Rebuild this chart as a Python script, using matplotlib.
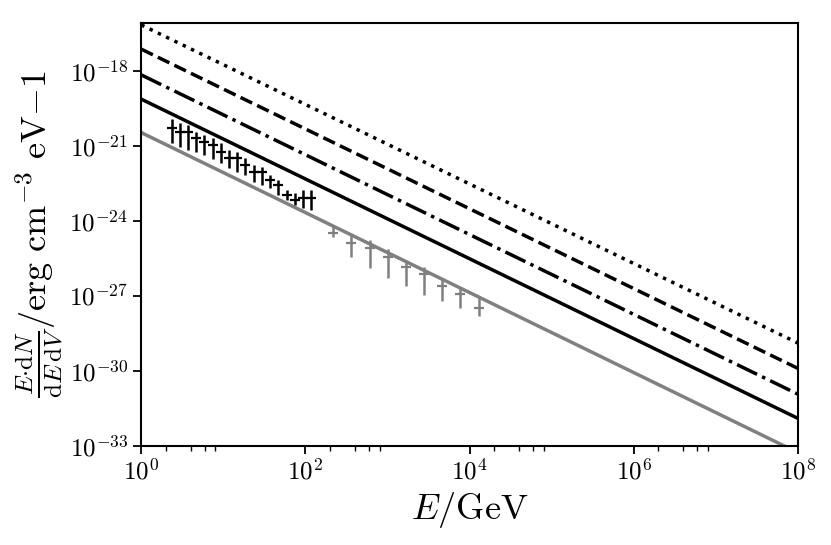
import numpy as np
import matplotlib
matplotlib.use("Agg")
import matplotlib.pyplot as plt
from matplotlib.ticker import FixedLocator

plt.rcParams['mathtext.fontset'] = 'cm'
plt.rcParams['font.family'] = 'serif'
plt.rcParams['font.serif'] = ['cmr10', 'DejaVu Serif']
plt.rcParams['axes.formatter.use_mathtext'] = True

# model lines: values at the two ends of the E range (straight in log-log)
line_E = [1.0, 1e8]
dotted_vals = [6.9e-17, 1.3e-29]
dashed_vals = [7.4e-18, 1.26e-30]
dashdot_vals = [6.9e-19, 1.17e-31]
solid_vals = [7.4e-20, 1.26e-32]
gray_vals = [3.4e-21, 5.4e-34]

# black data points (log10 values)
black_logE = [0.37, 0.47, 0.57, 0.67, 0.77, 0.87, 0.97, 1.07, 1.17,
              1.27, 1.37, 1.47, 1.57, 1.67, 1.77, 1.87, 1.97, 2.07]
black_logy = [-20.29, -20.43, -20.46, -20.67, -20.83, -20.96, -21.23, -21.50, -21.50,
              -21.76, -22.03, -22.03, -22.36, -22.56, -22.96, -23.16, -23.10, -23.10]
black_logtop = [-19.93, -20.09, -20.16, -20.43, -20.56, -20.70, -20.89, -21.16, -21.23,
                -21.50, -21.76, -21.83, -22.16, -22.36, -22.76, -22.90, -22.76, -22.76]
black_logbot = [-20.89, -21.03, -21.16, -21.23, -21.36, -21.52, -21.70, -21.90, -22.03,
                -22.16, -22.43, -22.56, -22.70, -22.96, -23.16, -23.36, -23.50, -23.56]

# gray data points
gray_logE = [2.34, 2.56, 2.79, 3.01, 3.23, 3.45, 3.67, 3.89, 4.11]
gray_logy = [-24.47, -24.90, -25.07, -25.43, -25.83, -26.14, -26.61, -26.94, -27.50]
gray_logtop = [-24.16, -24.57, -24.77, -25.14, -25.57, -25.86, -26.30, -26.66, -27.06]
gray_logbot = [-24.66, -25.43, -25.90, -26.27, -26.61, -26.97, -27.20, -27.48, -27.80]

# minor ticks only appear in the first decade of each labelled pair
minor_x = [m * 10.0 ** d for d in [0, 2, 4, 6] for m in [2, 4, 6, 8]]


def errbar(ax, logE, logy, logtop, logbot, color):
    x = 10 ** np.array(logE)
    y = 10 ** np.array(logy)
    lo = y - 10 ** np.array(logbot)
    hi = 10 ** np.array(logtop) - y
    ax.errorbar(x, y, yerr=[lo, hi], fmt='_', color=color, ms=7, mew=1.6,
                elinewidth=1.8, capsize=0)


fig = plt.figure(figsize=(8.31, 5.45), dpi=100)
ax = fig.add_axes([0.170, 0.182, 0.790, 0.776])

ax.plot(line_E, dotted_vals, color='black', ls=':', lw=2.5)
ax.plot(line_E, dashed_vals, color='black', ls='--', lw=2.5)
ax.plot(line_E, dashdot_vals, color='black', ls='-.', lw=2.5)
ax.plot(line_E, solid_vals, color='black', ls='-', lw=2.5)
ax.plot(line_E, gray_vals, color='gray', ls='-', lw=2.5)

errbar(ax, black_logE, black_logy, black_logtop, black_logbot, 'black')
errbar(ax, gray_logE, gray_logy, gray_logtop, gray_logbot, 'gray')

ax.set_xscale('log')
ax.set_yscale('log')
ax.set_xlim(1, 1e8)
ax.set_ylim(1e-33, 10 ** -16.08)
ax.set_xticks([1, 1e2, 1e4, 1e6, 1e8])
ax.xaxis.set_minor_locator(FixedLocator(minor_x))
ax.set_yticks([1e-33, 1e-30, 1e-27, 1e-24, 1e-21, 1e-18])
ax.yaxis.set_minor_locator(FixedLocator([]))

ax.tick_params(labelsize=18, width=1.3, length=6)
ax.tick_params(which='minor', width=1.0, length=3.5)
for s in ax.spines.values():
    s.set_linewidth(1.5)

ax.set_xlabel(r'$E/\mathrm{GeV}$', fontsize=26)
ax.set_ylabel(r'$\frac{E{\cdot}\mathrm{d}N}{\mathrm{d}E\,\mathrm{d}V}/\mathrm{erg\ cm}^{-3}\ \mathrm{eV}{-1}$',
              fontsize=26, labelpad=2)

fig.savefig('out.png', dpi=100)
